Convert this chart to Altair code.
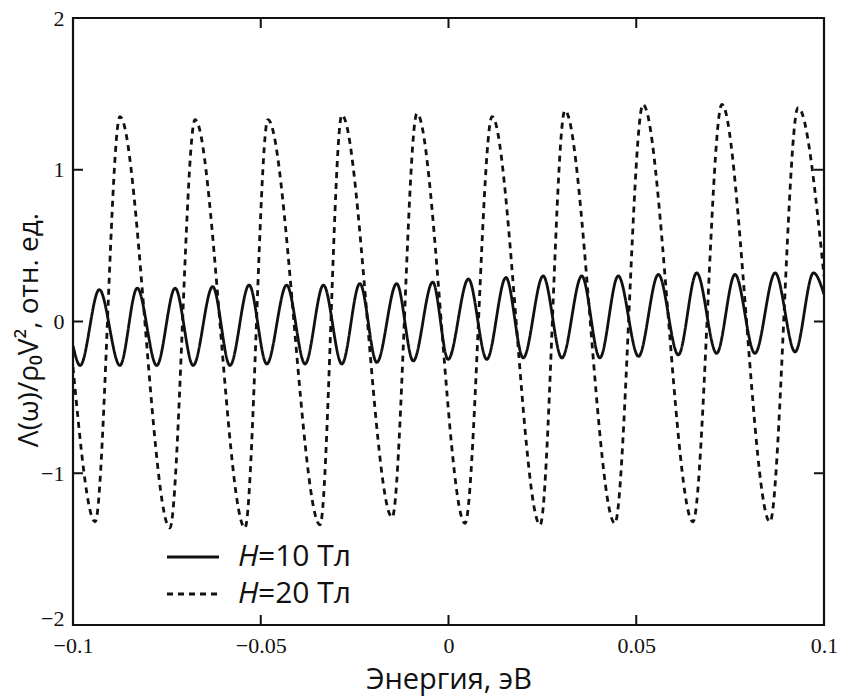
import altair as alt
import pandas as pd

# Turning points (troughs / peaks) of each curve plus the two end points.
# Energy in eV, response in units of rho0*V^2.
h10_energy = [
    -0.1000, -0.0981, -0.0930, -0.0875, -0.0829, -0.0777, -0.0728, -0.0680, -0.0628,
    -0.0582, -0.0531, -0.0484, -0.0431, -0.0382, -0.0333, -0.0284, -0.0236, -0.0191,
    -0.0138, -0.0094, -0.0042, -0.0001, 0.0053, 0.0102, 0.0153, 0.0199, 0.0252,
    0.0302, 0.0355, 0.0403, 0.0452, 0.0506, 0.0559, 0.0612, 0.0661, 0.0714,
    0.0763, 0.0816, 0.0870, 0.0923, 0.0972, 0.1000,
]
h10_value = [
    -0.16, -0.29, 0.21, -0.29, 0.22, -0.29, 0.22, -0.29, 0.23,
    -0.29, 0.24, -0.28, 0.24, -0.28, 0.24, -0.28, 0.25, -0.27,
    0.25, -0.26, 0.26, -0.25, 0.28, -0.25, 0.29, -0.24, 0.30,
    -0.24, 0.30, -0.24, 0.30, -0.23, 0.31, -0.22, 0.32, -0.21,
    0.31, -0.21, 0.32, -0.20, 0.32, 0.18,
]

h20_energy = [
    -0.1000, -0.0941, -0.0875, -0.0742, -0.0675, -0.0542, -0.0481, -0.0342, -0.0284,
    -0.0150, -0.0084, 0.0044, 0.0116, 0.0244, 0.0310, 0.0443, 0.0518, 0.0651,
    0.0728, 0.0856, 0.0931, 0.1000,
]
h20_value = [
    -0.30, -1.32, 1.35, -1.36, 1.33, -1.36, 1.33, -1.34, 1.36,
    -1.29, 1.37, -1.33, 1.35, -1.34, 1.39, -1.33, 1.43, -1.32,
    1.43, -1.32, 1.41, 0.30,
]

series_labels = ["H=10 Тл", "H=20 Тл"]
legend_field = ["=10 Тл", "=20 Тл"]
x_ticks = [-0.1, -0.05, 0, 0.05, 0.1]
y_ticks = [-2, -1, 0, 1, 2]
inner_x_ticks = [-0.05, 0, 0.05]
inner_y_ticks = [-1, 0, 1]

W, H = 751, 607
INK = "#111111"
DASH = [6, 5]
LINE_W = 2.8

df = pd.concat([
    pd.DataFrame({"energy": h10_energy, "value": h10_value, "series": series_labels[0]}),
    pd.DataFrame({"energy": h20_energy, "value": h20_value, "series": series_labels[1]}),
])

x_scale = alt.Scale(domain=[-0.1, 0.1], nice=False, zero=False)
y_scale = alt.Scale(domain=[-2, 2], nice=False, zero=False)

x_axis = alt.Axis(
    values=x_ticks, format="~g", title="Энергия, эВ",
    ticks=False, domain=False, grid=False,
    labelFont="Liberation Serif", labelFontSize=22, labelColor=INK,
    labelPadding=10, labelFlush=False, labelOverlap=False,
    titleFont="Open Sans", titleFontSize=29, titleFontWeight="normal", titleColor=INK,
    titleY=63, titleBaseline="alphabetic",
)
y_axis = alt.Axis(
    values=y_ticks, format="d", title="Λ(ω)/ρ₀V², отн. ед.",
    ticks=False, domain=False, grid=False,
    labelFont="Liberation Serif", labelFontSize=22, labelColor=INK,
    labelPadding=9, labelFlush=False, labelOverlap=False,
    labelBaseline=alt.condition("datum.value == -2", alt.value("alphabetic"), alt.value("middle")),
    titleFont="Open Sans", titleFontSize=28, titleFontWeight="normal", titleColor=INK,
    titleX=-44, titleY=H / 2 + 8, titleAngle=-90, titleBaseline="middle", titleAlign="center",
)

lines = alt.Chart(df).mark_line(
    interpolate="monotone", color=INK, strokeWidth=LINE_W, clip=True
).encode(
    x=alt.X("energy:Q", scale=x_scale, axis=x_axis),
    y=alt.Y("value:Q", scale=y_scale, axis=y_axis),
    strokeDash=alt.StrokeDash(
        "series:N",
        scale=alt.Scale(domain=series_labels, range=[[1, 0], DASH]),
        legend=None,
    ),
    detail="series:N",
)

# Inward-pointing ticks on all four sides of the frame
ytick_df = pd.DataFrame({"v": inner_y_ticks})
xtick_df = pd.DataFrame({"v": inner_x_ticks})
tick_style = dict(color=INK, strokeWidth=2)
left_ticks = alt.Chart(ytick_df).mark_rule(**tick_style).encode(
    y=alt.Y("v:Q", scale=y_scale, axis=y_axis), x=alt.value(0), x2=alt.value(10))
right_ticks = alt.Chart(ytick_df).mark_rule(**tick_style).encode(
    y=alt.Y("v:Q", scale=y_scale, axis=y_axis), x=alt.value(W), x2=alt.value(W - 10))
bottom_ticks = alt.Chart(xtick_df).mark_rule(**tick_style).encode(
    x=alt.X("v:Q", scale=x_scale, axis=x_axis), y=alt.value(H), y2=alt.value(H - 10))
top_ticks = alt.Chart(xtick_df).mark_rule(**tick_style).encode(
    x=alt.X("v:Q", scale=x_scale, axis=x_axis), y=alt.value(0), y2=alt.value(10))

# Legend in the lower-left corner of the plot
legend_layers = []
for i, (name, rest) in enumerate(zip(series_labels, legend_field)):
    row_y = 539 + 37 * i
    row_df = pd.DataFrame({"series": [name], "rest": [rest], "sym": ["H"]})
    sample = alt.Chart(row_df).mark_rule(
        color=INK, strokeWidth=LINE_W, strokeDash=[1, 0] if i == 0 else DASH
    ).encode(x=alt.value(94), x2=alt.value(146), y=alt.value(row_y))
    sym = alt.Chart(row_df).mark_text(
        font="Open Sans", fontSize=30, fontStyle="italic", color=INK,
        align="left", baseline="middle"
    ).encode(text="sym:N", x=alt.value(165), y=alt.value(row_y))
    rest_txt = alt.Chart(row_df).mark_text(
        font="Open Sans", fontSize=30, color=INK, align="left", baseline="middle"
    ).encode(text="rest:N", x=alt.value(185), y=alt.value(row_y))
    legend_layers += [sample, sym, rest_txt]

chart = alt.layer(
    lines, left_ticks, right_ticks, bottom_ticks, top_ticks, *legend_layers
).properties(
    width=W, height=H,
    padding={"left": 73, "top": 18, "right": 18, "bottom": 72},
    autosize=alt.AutoSizeParams(type="none"),
    background="white",
).configure_view(stroke=INK, strokeWidth=2.2)

chart.save("out.html", embed_options={"renderer": "svg", "actions": False})
